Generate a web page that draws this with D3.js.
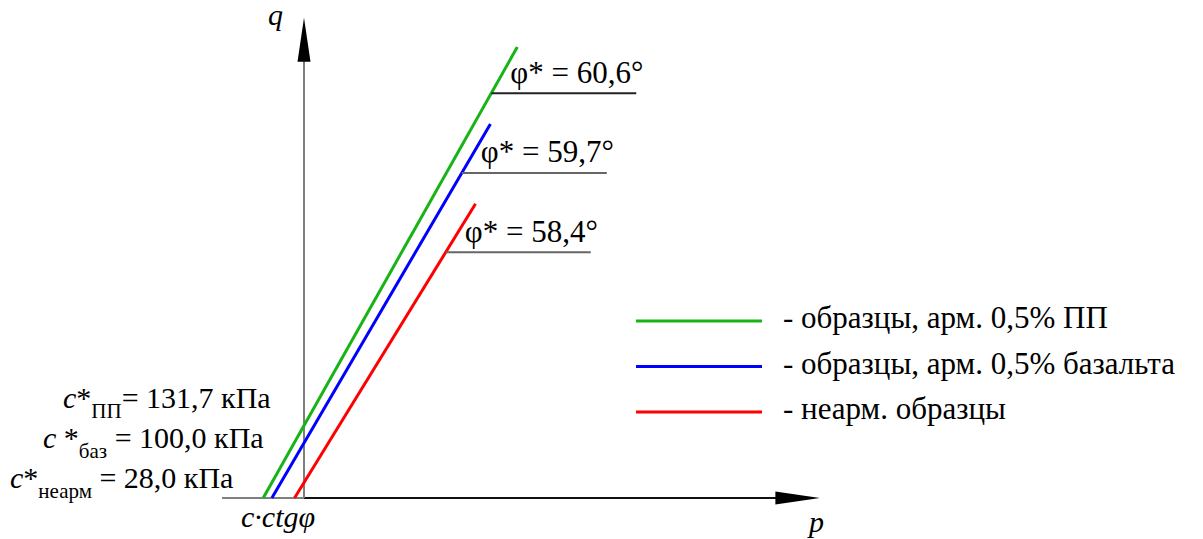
<!DOCTYPE html>
<html>
<head>
<meta charset="utf-8">
<script src="https://cdn.jsdelivr.net/npm/d3@7"></script>
</head>
<body style="margin:0">
<script>
// strength envelopes q = c* + p*tg(phi*)
var series = ["ПП", "баз", "неарм"];
var phiDeg = [60.6, 59.7, 58.4];
var cohesion = [131.7, 100.0, 28.0];      // кПа
var qTop = [820, 680, 535];               // upper end of each drawn line
var qShelf = [736, 591, 447];             // level of the phi* label shelf
var colors = ["#17b317", "#0000ff", "#ff0000"];
var shelfColors = ["#222", "#666", "#666"];
var phiLabels = ["φ* = 60,6°", "φ* = 59,7°", "φ* = 58,4°"];
var cLabels = ["131,7", "100,0", "28,0"];
var legendLabels = ["- образцы, арм. 0,5% ПП", "- образцы, арм. 0,5% базальта", "- неарм. образцы"];

var width = 1203, height = 539;

var svg = d3.select("body").append("svg")
  .attr("width", width)
  .attr("height", height);

// same px per kPa on both axes so the angles stay true
var x = d3.scaleLinear().domain([0, 1000]).range([304, 854]);
var y = d3.scaleLinear().domain([0, 1000]).range([498, -52]);

function txt(px, py, size) {
  return svg.append("text")
    .attr("x", px).attr("y", py)
    .style("font-family", "'Liberation Serif'")
    .style("font-size", size + "px");
}

// axes
svg.append("line")
  .attr("x1", x(-149)).attr("x2", x(0)).attr("y1", y(0)).attr("y2", y(0))
  .attr("stroke", "#7f7f7f").attr("stroke-width", 2);
svg.append("line")
  .attr("x1", x(0)).attr("x2", x(862)).attr("y1", y(0)).attr("y2", y(0))
  .attr("stroke", "#111").attr("stroke-width", 2);
svg.append("line")
  .attr("x1", x(0)).attr("x2", x(0)).attr("y1", y(0)).attr("y2", y(795))
  .attr("stroke", "#7f7f7f").attr("stroke-width", 2);

svg.append("path")
  .attr("d", "M" + x(938) + "," + y(0) + "L" + x(857) + "," + (y(0) - 6.5) +
             "L" + x(857) + "," + (y(0) + 6.5) + "Z")
  .attr("fill", "#000");
svg.append("path")
  .attr("d", "M" + x(0) + "," + y(873) + "L" + (x(0) - 6.5) + "," + y(793) +
             "L" + (x(0) + 6.5) + "," + y(793) + "Z")
  .attr("fill", "#000");

txt(268, 25, 30).style("font-style", "italic").text("q");
txt(809, 532, 30).style("font-style", "italic").text("p");
txt(241, 527, 30).style("font-style", "italic").text("c·ctgφ");

// envelopes and phi* shelves
series.forEach(function(s, i) {
  var tg = Math.tan(phiDeg[i] * Math.PI / 180);
  var p0 = -cohesion[i] / tg;
  var p1 = (qTop[i] - cohesion[i]) / tg;
  svg.append("line")
    .attr("stroke", colors[i]).attr("stroke-width", 3)
    .attr("x1", x(p0)).attr("y1", y(0))
    .attr("x2", x(p1)).attr("y2", y(qTop[i]));

  var ps = (qShelf[i] - cohesion[i]) / tg;
  svg.append("line")
    .attr("stroke", shelfColors[i]).attr("stroke-width", 2)
    .attr("x1", x(ps)).attr("x2", x(ps) + 145)
    .attr("y1", y(qShelf[i])).attr("y2", y(qShelf[i]));
  txt(x(ps) + 19, y(qShelf[i]) - 10.5, 31).text(phiLabels[i]);
});

// c* labels at the left
var cPos = [[63, 408], [43, 448], [10, 488]];
series.forEach(function(s, i) {
  var t = txt(cPos[i][0], cPos[i][1], 30);
  t.append("tspan").style("font-style", "italic").text("c");
  t.append("tspan").text(i === 1 ? " *" : "*");
  t.append("tspan").attr("dy", 10).style("font-size", "21px").text(s);
  t.append("tspan").attr("dy", -10).text((i === 0 ? "= " : " = ") + cLabels[i] + " кПа");
});

// legend
legendLabels.forEach(function(l, i) {
  var ly = 321 + i * 45.5;
  svg.append("line")
    .attr("stroke", colors[i]).attr("stroke-width", 3)
    .attr("x1", 636).attr("x2", 762).attr("y1", ly).attr("y2", ly);
  txt(783, ly + 7, 31).text(l);
});
</script>
</body>
</html>
